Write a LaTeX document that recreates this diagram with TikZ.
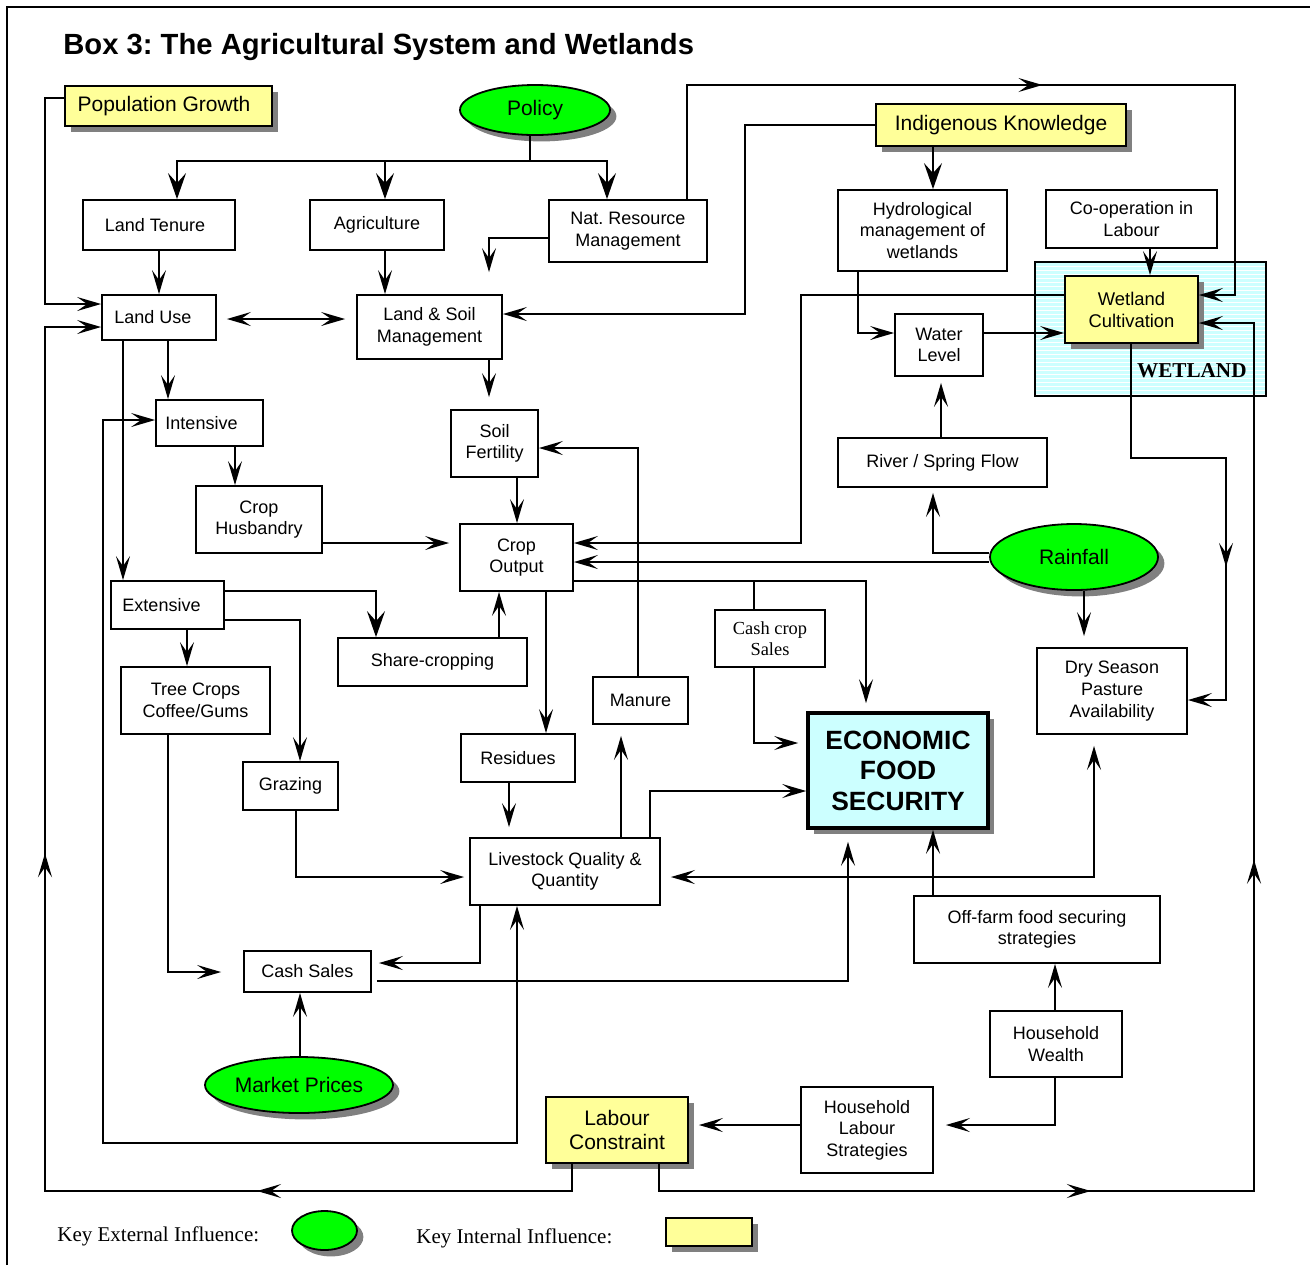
\documentclass[tikz,border=0pt]{standalone}
\usepackage{fontspec}
\setmainfont{Liberation Sans}
\newfontfamily\tnr{Liberation Serif}
\usetikzlibrary{arrows.meta,shapes.geometric,shadows,decorations.markings}
\definecolor{ylw}{HTML}{FFFF99}
\definecolor{grn}{HTML}{00FF00}
\definecolor{cyn}{HTML}{CCFFFF}
\definecolor{shd}{HTML}{808080}
\frenchspacing
\begin{document}
\begin{tikzpicture}[x=0.5pt,y=-0.5pt,
  >={Stealth[length=12pt,width=7pt,inset=5pt]},
  nbox/.style={draw,line width=0.9pt,fill=white,align=center,inner sep=0pt,font=\fontsize{9}{10.8}\selectfont},
  sz/.style 2 args={minimum width=#1*0.5pt,minimum height=#2*0.5pt},
  shad/.style={drop shadow={shadow xshift=3.2pt,shadow yshift=-3.2pt,fill=shd,opacity=1}},
  ybox/.style={nbox,fill=ylw,shad,font=\fontsize{10.5}{12}\selectfont},
  extinf/.style={ellipse,draw,line width=0.9pt,fill=grn,inner sep=0pt,shad,font=\fontsize{10.5}{12}\selectfont},
  efsbox/.style={draw,line width=1.8pt,fill=cyn,align=center,inner sep=0pt,shad,font=\bfseries\fontsize{13.2}{15.3}\selectfont},
  conn/.style={line width=0.9pt},
  bigtip/.style={-{Stealth[length=13pt,width=9pt,inset=5pt]}},
  midarr/.style={postaction={decorate,decoration={markings,mark=at position #1 with {\arrow{>}}}}},
  txt/.style={inner sep=0pt}
]
\useasboundingbox (0,0) rectangle (1310,1265);
% frame
\draw[line width=1pt] (7,1265) -- (7,7) -- (1310,7);
\node[txt,anchor=base west,font=\bfseries\fontsize{14.6}{17}\selectfont] (title) at (63,54) {Box 3: The Agricultural System and Wetlands};
% wetland area
\fill[cyn] (1035,262) rectangle (1266,396);
\foreach \yy in {266,270,...,394} \draw[white,line width=0.5pt] (1036,\yy) -- (1265,\yy);
\draw[line width=0.9pt] (1035,262) rectangle (1266,396);
\node[txt,anchor=base east,font=\tnr\bfseries\fontsize{10.6}{12}\selectfont] (wlab) at (1247,377) {WETLAND};
% nodes
\node[ybox,sz={207}{40}] (PG) at (168.5,106) {Population Growth\hspace{4.5pt}};
\node[extinf,sz={150}{50}] (Pol) at (535,110) {Policy};
\node[nbox,sz={152}{50}] (LT) at (159,225) {Land Tenure\hspace{4pt}};
\node[nbox,sz={134}{50}] (Ag) at (377,225) {Agriculture};
\node[nbox,sz={158}{62}] (NRM) at (628,231) {Nat. Resource\\Management};
\node[ybox,sz={250}{42}] (IK) at (1001,125) {Indigenous Knowledge};
\node[nbox,sz={169}{81}] (Hy) at (922.5,230.5) {Hydrological\\management of\\wetlands};
\node[nbox,sz={171}{58}] (Coop) at (1131.5,219) {Co-operation in\\Labour};
\node[nbox,sz={114}{45}] (LU) at (159,317.5) {Land Use\hspace{6pt}};
\node[nbox,sz={145}{64}] (LS) at (429.5,327) {Land \& Soil\\Management};
\node[ybox,sz={133}{67},font=\fontsize{9.2}{11}\selectfont] (WC) at (1131.5,309.5) {Wetland\\Cultivation};
\node[nbox,sz={88}{62}] (WL) at (939,345) {Water\\Level};
\node[nbox,sz={107}{46}] (Int) at (209.5,423) {Intensive\hspace{8pt}};
\node[nbox,sz={87}{67}] (SF) at (494.5,443.5) {Soil\\Fertility};
\node[nbox,sz={209}{49}] (Riv) at (942.5,462.5) {River / Spring Flow};
\node[nbox,sz={126}{67}] (CH) at (259,519.5) {Crop\\Husbandry};
\node[nbox,sz={113}{67}] (CO) at (516.5,557.5) {Crop\\Output};
\node[extinf,sz={168}{66}] (Rain) at (1074,557) {Rainfall};
\node[nbox,sz={113}{48}] (Ext) at (167.5,605) {Extensive\hspace{6pt}};
\node[nbox,sz={189}{48}] (Sh) at (432.5,662) {Share-cropping};
\node[nbox,sz={110}{57},font=\tnr\fontsize{9.2}{10.6}\selectfont] (CCS) at (770,638.5) {Cash crop\\Sales};
\node[nbox,sz={149}{67}] (TC) at (195.5,700.5) {Tree Crops\\Coffee/Gums};
\node[nbox,sz={95}{47}] (Man) at (640.5,700.5) {Manure};
\node[nbox,sz={150}{86}] (Dry) at (1112,691) {Dry Season\\Pasture\\Availability};
\node[efsbox,sz={180}{115}] (EFS) at (898,770.5) {ECONOMIC\\FOOD\\SECURITY};
\node[nbox,sz={114}{48}] (Res) at (518,758) {Residues};
\node[nbox,sz={95}{48}] (Gr) at (290.5,786) {Grazing};
\node[nbox,sz={190}{67}] (LQ) at (565,871.5) {Livestock Quality \&\\Quantity};
\node[nbox,sz={246}{67}] (OF) at (1037,929.5) {Off-farm food securing\\strategies};
\node[nbox,sz={127}{41}] (CS) at (307.5,971.5) {Cash Sales};
\node[nbox,sz={132}{66}] (HW) at (1056,1044) {Household\\Wealth};
\node[extinf,sz={188}{56}] (MP) at (299,1085) {Market Prices\\[3pt]};
\node[nbox,sz={132}{86}] (HLS) at (867,1130) {Household\\Labour\\Strategies};
\node[ybox,sz={142}{66}] (LC) at (617,1130) {Labour\\Constraint};
% key
\node[txt,anchor=base west,font=\tnr\fontsize{10.5}{12}\selectfont] (k1) at (57,1241) {Key External Influence:};
\node[extinf,sz={65}{39}] (k1s) at (324.5,1230.5) {};
\node[txt,anchor=base west,font=\tnr\fontsize{10.5}{12}\selectfont] (k2) at (416,1243) {Key Internal Influence:};
\node[ybox,sz={86}{28}] (k2s) at (709,1232) {};
% connectors
\draw[conn,->] (PG.west |- 0,98) -| (45,304) -- (LU.west |- 0,304);
\draw[conn,->,midarr=0.232,midarr=0.605] (LC.south -| 572,0) |- (45,1191) -- (45,327) -- (LU.west |- 0,327);
\coordinate (pj) at (530,161);
\draw[conn] (Pol.south -| pj) -- (pj);
\draw[conn,bigtip] (pj) -| (LT.north -| 177,0);
\draw[conn,bigtip] (pj) -| (Ag.north -| 385,0);
\draw[conn,bigtip] (pj) -| (NRM.north -| 607,0);
\draw[conn,->] (LT.south) -- (LU.north);
\draw[conn,->] (Ag.south -| 385,0) -- (LS.north -| 385,0);
\draw[conn,->,shorten >=11pt] (NRM.west |- 0,238) -| (LS.north -| 489,0);
\draw[conn,<->,shorten <=5pt,shorten >=5.5pt] (LU.east |- 0,319) -- (LS.west |- 0,319);
\draw[conn,->,midarr=0.517] (NRM.north -| 687,0) |- (1235,85) |- (WC.east |- 0,295);
\draw[conn,->] (IK.west) -| (745,314) -- (LS.east |- 0,314);
\draw[conn,bigtip] (IK.south -| 933,0) -- (Hy.north -| 933,0);
\draw[conn,->] (Coop.south -| 1150,0) -- (WC.north -| 1150,0);
\draw[conn,->] (WC.west |- 0,295) -| (801,543) -- (CO.east |- 0,543);
\draw[conn,->] (Hy.south -| 858,0) |- (WL.west |- 0,333);
\draw[conn,->] (WL.east |- 0,333) -- (WC.west |- 0,333);
\draw[conn,->,shorten >=3pt] (Riv.north -| 941,0) -- (WL.south -| 941,0);
\draw[conn,->,shorten >=2.5pt] (Rain.west |- 0,553) -| (Riv.south -| 933,0);
\draw[conn,->] (Rain.west |- 0,562) -- (CO.east |- 0,562);
\draw[conn,->,shorten >=5.5pt] (Rain.south -| 1084,0) -- (Dry.north -| 1084,0);
\draw[conn,->,midarr=0.65] (WC.south -| 1131,0) |- (1226,458) |- (Dry.east |- 0,700);
\draw[conn,->,midarr=0.297,midarr=0.617] (LC.south -| 659,0) |- (1254,1191) -- (1254,323) -- (WC.east |- 0,323);
\draw[conn,->] (LU.south -| 168,0) -- (Int.north -| 168,0);
\draw[conn,->] (LU.south -| 123,0) -- (Ext.north -| 123,0);
\draw[conn,->] (Int.south -| 235,0) -- (CH.north -| 235,0);
\draw[conn,->,shorten >=5pt] (CH.east |- 0,543) -- (CO.west |- 0,543);
\draw[conn,bigtip] (Ext.east |- 0,591) -| (Sh.north -| 376,0);
\draw[conn,->] (Ext.east |- 0,620) -| (Gr.north -| 300,0);
\draw[conn,->] (Ext.south -| 187,0) -- (TC.north -| 187,0);
\draw[conn,->,shorten >=11pt] (TC.south -| 168,0) |- (CS.west |- 0,972);
\draw[conn,->] (Sh.north -| 499,0) -- (CO.south -| 499,0);
\draw[conn,->] (SF.south -| 517,0) -- (CO.north -| 517,0);
\draw[conn,->,shorten >=6pt] (LS.south -| 489,0) -- (SF.north -| 489,0);
\draw[conn,->] (Man.north -| 638,0) |- (SF.east |- 0,448);
\draw[conn,->] (CO.south -| 546,0) -- (Res.north -| 546,0);
\draw[conn,->,shorten >=4pt] (CO.east |- 0,581) -| (EFS.north -| 866,0);
\coordinate (br) at (754,581);
\draw[conn] (br) -- (CCS.north -| br);
\draw[conn,->,shorten >=4pt] (CCS.south -| 754,0) |- (EFS.west |- 0,743);
\draw[conn,->,shorten >=5pt] (Res.south -| 509,0) -- (LQ.north -| 509,0);
\draw[conn,->,shorten >=5.5pt] (LQ.north -| 621,0) -- (Man.south -| 621,0);
\draw[conn,->] (LQ.north -| 650,0) |- (EFS.west |- 0,791);
\draw[conn,->,shorten >=2.5pt] (Gr.south -| 296,0) |- (LQ.west |- 0,877);
\draw[conn,->,shorten >=3.5pt] (LQ.south -| 480,0) |- (CS.east |- 0,963);
\draw[conn,->,shorten <=2.5pt,shorten >=6pt] (CS.east |- 0,981) -| (EFS.south -| 848,0);
\draw[conn,->] (MP.north -| 300,0) -- (CS.south -| 300,0);
\draw[conn,<->] (Int.west |- 0,420) -| (103,1143) -| (LQ.south -| 517,0);
\draw[conn,->] (OF.north -| 933,0) -- (EFS.south -| 933,0);
\draw[conn,<->,shorten <=5pt,shorten >=5.5pt] (LQ.east |- 0,877) -| (Dry.south -| 1094,0);
\draw[conn,->] (HW.north -| 1055,0) -- (OF.south -| 1055,0);
\draw[conn,->,shorten >=6pt] (HW.south -| 1055,0) |- (HLS.east |- 0,1125);
\draw[conn,->,shorten >=5pt] (HLS.west |- 0,1125) -- (LC.east |- 0,1125);
\end{tikzpicture}
\end{document}
